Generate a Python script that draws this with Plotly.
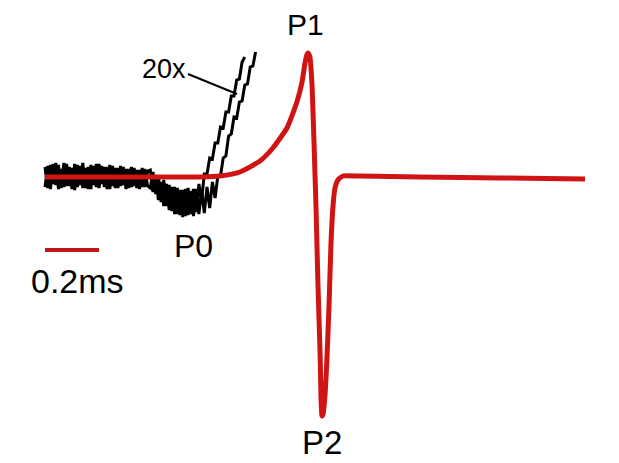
import numpy as np
import plotly.graph_objects as go

# ---------------- data ----------------
# Averaged response (red), time in ms, amplitude in arbitrary units
red_t = [0.000, 0.204, 0.389, 0.574, 0.648, 0.722, 0.796, 0.844, 0.896, 0.933,
         0.952, 0.963, 0.970, 0.974, 0.981, 0.989, 0.996, 1.004, 1.011, 1.019,
         1.022, 1.026, 1.030, 1.037, 1.044, 1.052, 1.059, 1.067, 1.074, 1.085,
         1.104, 1.167, 1.389, 1.685, 2.000]
red_y = [-0.1, -0.1, -0.1, -0.1, 0.0, 0.4, 1.5, 2.8, 4.8, 7.4,
         9.4, 11.3, 12.1, 12.3, 11.9, 9.1, 3.6, -3.4, -10.9, -17.9,
         -21.9, -24.0, -23.8, -21.9, -18.4, -12.9, -6.9, -2.9, -1.2, -0.4,
         0.0, 0.0, -0.1, -0.2, -0.3]

# 20x amplified raw traces (black), sampled every DT ms from t = 0
DT = 0.01
black_a = [0.9, -1.2, 1.1, -0.8, 1.3, -1.3, 0.7, -1.1, 1.2, -1.0,
           0.8, -1.4, 1.1, -0.9, 1.3, -1.2, 0.9, -1.3, 1.0, -1.1,
           1.2, -0.8, 0.9, -1.3, 1.1, -1.0, 0.8, -1.2, 1.0, -0.9,
           0.7, -1.2, 0.9, -1.0, 0.6, -1.3, 0.8, -1.1, 0.5,
           0.6, -1.6, 0.0, -2.4, -0.6, -3.0, -0.8, -3.4, -1.1, -3.8,
           -1.2, -3.9, -1.4, -4.0, -1.2, -3.8, -1.3, -3.6, -0.8, -2.4,
           0.2, 0.2, 1.8, 1.7, 3.3, 3.3, 4.9, 4.8, 6.4, 6.4,
           8.0, 8.0, 9.6, 9.7, 11.4, 11.9]
black_b = [-1.1, 1.0, -1.3, 1.2, -0.9, 1.1, -1.2, 1.3, -1.0, 0.9,
           -1.3, 1.2, -1.1, 1.0, -1.2, 0.8, -1.3, 1.1, -0.9, 1.2,
           -1.2, 1.0, -1.1, 0.9, -1.3, 1.0, -1.2, 0.8, -1.0, 0.9,
           -1.3, 0.7, -1.1, 0.8, -1.2, 0.6, -1.1, 0.7, -1.0,
           -1.2, 0.4, -1.8, 0.0, -2.6, -0.4, -3.0, -0.9, -3.5, -1.1,
           -3.8, -1.4, -4.1, -1.3, -3.9, -1.5, -4.0, -1.3, -3.8, -1.4,
           -3.7, -1.1, -3.2, -0.6, -2.2,
           0.0, 0.0, 1.8, 2.0, 4.0, 4.2, 5.9, 5.8, 7.4, 7.5,
           9.1, 9.2, 10.9, 11.0, 12.4]

SCALE_MS = 0.2
scale_y = -7.4

# ---------------- figure ----------------
# page body has an 8px margin, so the figure is 8px smaller and offset
OFF = 8
W, H = 619 - OFF, 463 - OFF
X_RANGE = [(OFF - 45) / 270, (619 - 45) / 270]
Y_RANGE = [(176 - 463) / 10, (176 - OFF) / 10]


def px(x):
    return (x - OFF) / W


def py(y):
    return 1 - (y - OFF) / H


t_a = DT * np.arange(len(black_a))
t_b = DT * np.arange(len(black_b))

fig = go.Figure()
fig.add_trace(go.Scatter(x=t_b, y=black_b, mode="lines",
                         line=dict(color="black", width=3), hoverinfo="skip"))
fig.add_trace(go.Scatter(x=t_a, y=black_a, mode="lines",
                         line=dict(color="black", width=3), hoverinfo="skip"))
fig.add_trace(go.Scatter(x=red_t, y=red_y, mode="lines",
                         line=dict(color="#d01414", width=5, shape="spline", smoothing=0.5),
                         hoverinfo="skip"))
# scale bar
fig.add_trace(go.Scatter(x=[0, SCALE_MS], y=[scale_y, scale_y], mode="lines",
                         line=dict(color="#c01818", width=4), hoverinfo="skip"))

font = "Liberation Sans, Arial, sans-serif"
ann = [
    ("P1", 305, 25, 30),
    ("P0", 193, 246, 32),
    ("P2", 322, 442, 33),
    ("0.2ms", 77, 281, 34),
    ("20x", 164, 69, 27),
]
for text, x, y, s in ann:
    fig.add_annotation(x=px(x), y=py(y), xref="paper", yref="paper", text=text,
                       showarrow=False, xanchor="center", yanchor="middle",
                       font=dict(family=font, size=s, color="black"))

fig.add_shape(type="line", xref="paper", yref="paper",
              x0=px(188), y0=py(74), x1=px(237), y1=py(94),
              line=dict(color="black", width=2))

fig.update_layout(
    width=W, height=H, margin=dict(l=0, r=0, t=0, b=0),
    paper_bgcolor="white", plot_bgcolor="white", showlegend=False,
    xaxis=dict(range=X_RANGE, visible=False, fixedrange=True),
    yaxis=dict(range=Y_RANGE, visible=False, fixedrange=True),
)

fig.write_html("out.html", config={"displayModeBar": False})
